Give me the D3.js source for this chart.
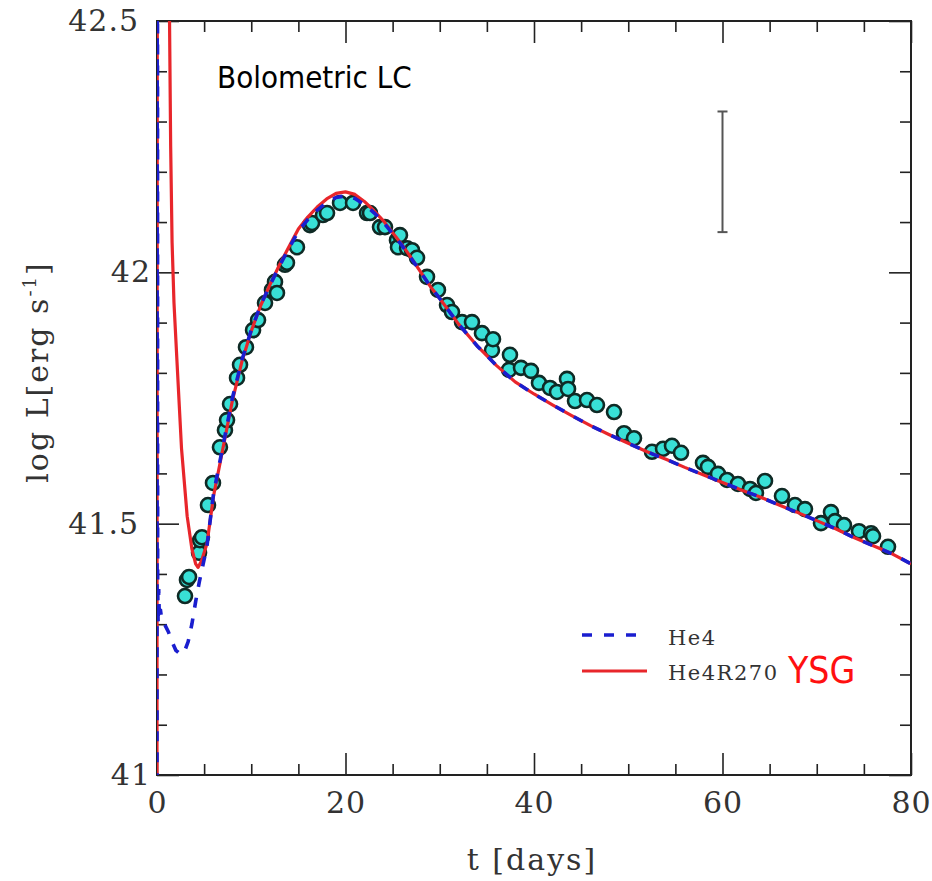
<!DOCTYPE html>
<html><head><meta charset="utf-8">
<script src="https://cdn.jsdelivr.net/npm/d3@7"></script>
<style>body{margin:0;background:#fff;} svg{display:block;}</style>
</head><body>
<svg id="c" width="932" height="881"></svg>
<script>
// ---- data ----
const xTicksMajor = [0, 20, 40, 60, 80];
const yTicksMajor = [41, 41.5, 42, 42.5];

const he4T = [0,0.02,0.05,0.07,0.12,0.18,0.25,0.35,0.5,0.8,1.2,1.6,2.0,2.5,2.9,3.3,3.7,4.1,4.5,4.9,5.3,6,7,8,9,10,11,12,13,14,15,16,17,18,19,20,21,22,23,24,25,26,27,28,29,30,32,34,36,38,40,42,44,46,48,50,52,54,56,58,60,62,64,66,68,70,72,74,76,78,80];
const he4L = [40.9,42.7,42.7,41.38,41.30,41.37,41.31,41.33,41.31,41.30,41.285,41.265,41.248,41.24,41.245,41.265,41.30,41.345,41.385,41.42,41.455,41.56,41.655,41.75,41.825,41.885,41.935,41.975,42.013,42.048,42.082,42.105,42.124,42.139,42.149,42.152,42.147,42.135,42.119,42.1,42.077,42.053,42.027,42.0,41.972,41.948,41.897,41.853,41.815,41.782,41.758,41.736,41.715,41.695,41.677,41.66,41.643,41.628,41.612,41.597,41.582,41.567,41.553,41.537,41.522,41.506,41.49,41.472,41.456,41.44,41.42];

const r270T = [0,0.03,1.25,1.33,1.45,1.6,1.8,2.1,2.6,3.2,3.7,4.1,4.35,4.7,5.3,6,7,8,9,10,11,12,13,14,15,16,17,18,19,20,21,22,23,24,25,26,27,28,29,30,32,34,36,38,40,42,44,46,48,50,52,54,56,58,60,62,64,66,68,70,72,74,76,78,80];
const r270L = [40.9,42.7,42.7,42.5,42.25,42.06,41.94,41.83,41.65,41.515,41.45,41.42,41.413,41.425,41.46,41.555,41.65,41.745,41.822,41.883,41.934,41.976,42.015,42.051,42.086,42.11,42.13,42.146,42.157,42.16,42.155,42.141,42.123,42.103,42.079,42.055,42.028,42.0,41.972,41.948,41.897,41.853,41.815,41.782,41.758,41.736,41.715,41.695,41.677,41.66,41.643,41.628,41.612,41.597,41.582,41.567,41.553,41.537,41.522,41.506,41.49,41.472,41.456,41.44,41.42];

const obsT = [2.97,3.18,3.40,4.46,4.56,4.77,5.41,5.94,6.68,7.21,7.43,7.75,8.49,8.81,9.44,10.19,10.72,11.46,12.20,12.52,12.73,13.58,13.79,14.85,16.23,16.45,17.61,18.04,19.42,20.80,22.28,22.60,23.66,24.19,25.46,25.57,25.78,26.53,27.06,27.59,28.65,29.81,30.77,31.30,32.36,33.42,34.48,35.54,35.65,37.35,37.45,38.62,39.68,40.53,41.70,42.44,43.50,43.61,44.35,45.62,46.68,48.49,49.55,50.61,52.52,53.69,54.64,55.60,57.93,58.46,59.52,60.48,61.64,62.92,63.55,64.51,66.31,67.69,68.75,70.45,71.51,71.94,72.89,74.48,75.76,75.97,77.56];
const obsL = [41.356,41.388,41.394,41.442,41.467,41.473,41.537,41.581,41.652,41.686,41.706,41.738,41.790,41.816,41.851,41.885,41.905,41.939,41.965,41.981,41.959,42.015,42.019,42.050,42.094,42.098,42.114,42.118,42.138,42.138,42.118,42.118,42.090,42.090,42.064,42.050,42.074,42.048,42.044,42.029,41.991,41.965,41.935,41.921,41.901,41.901,41.879,41.845,41.867,41.806,41.836,41.810,41.804,41.780,41.770,41.762,41.788,41.768,41.744,41.746,41.736,41.722,41.680,41.670,41.643,41.649,41.655,41.641,41.621,41.613,41.599,41.587,41.579,41.569,41.561,41.585,41.555,41.537,41.529,41.501,41.523,41.505,41.497,41.485,41.481,41.475,41.454];

const errT = 60, errLow = 42.08, errHigh = 42.32;

// ---- layout ----
const L = 157, R = 911, T = 21, B = 775;
const svg = d3.select("#c");
const x = d3.scaleLinear().domain([0, 80]).range([L, R]);
const y = d3.scaleLinear().domain([41, 42.5]).range([B, T]);

svg.append("defs").append("clipPath").attr("id","clip")
  .append("rect").attr("x",L).attr("y",T).attr("width",R-L).attr("height",B-T);

const frameCol = "#222";
function styleAxis(g){
  g.select(".domain").remove();
  g.selectAll(".tick line").attr("stroke", frameCol).attr("stroke-width", 1.6);
  g.selectAll(".tick text").attr("fill","#333").attr("font-family","'DejaVu Serif', serif").attr("font-size",30).attr("letter-spacing","1px");
}
const minorX = d3.range(0, 81, 5).filter(d => d % 20 !== 0);
const minorY = d3.range(41, 42.51, 0.1).map(d => +d.toFixed(1)).filter(d => Math.abs((d*2)%1) > 1e-6);

// bottom
svg.append("g").attr("transform",`translate(0,${B})`)
  .call(d3.axisBottom(x).tickValues(xTicksMajor).tickSize(-22).tickPadding(38).tickFormat(d3.format("d")))
  .call(styleAxis).call(g=>g.selectAll(".tick text").attr("dy","0"));
svg.append("g").attr("transform",`translate(0,${B})`)
  .call(d3.axisBottom(x).tickValues(minorX).tickSize(-11).tickFormat("")).call(styleAxis);
// top
svg.append("g").attr("transform",`translate(0,${T})`)
  .call(d3.axisTop(x).tickValues(xTicksMajor).tickSize(-22).tickFormat("")).call(styleAxis);
svg.append("g").attr("transform",`translate(0,${T})`)
  .call(d3.axisTop(x).tickValues(minorX).tickSize(-11).tickFormat("")).call(styleAxis);
// left
svg.append("g").attr("transform",`translate(${L},0)`)
  .call(d3.axisLeft(y).tickValues(yTicksMajor).tickSize(-22).tickPadding(18)
    .tickFormat(d => Number.isInteger(d) ? d3.format("d")(d) : d3.format(".1f")(d)))
  .call(styleAxis)
  .call(g=>g.selectAll(".tick text").attr("dx", d => Number.isInteger(d) ? 12 : 0));
svg.append("g").attr("transform",`translate(${L},0)`)
  .call(d3.axisLeft(y).tickValues(minorY).tickSize(-10).tickFormat("")).call(styleAxis);
// right
svg.append("g").attr("transform",`translate(${R},0)`)
  .call(d3.axisRight(y).tickValues(yTicksMajor).tickSize(-22).tickFormat("")).call(styleAxis);
svg.append("g").attr("transform",`translate(${R},0)`)
  .call(d3.axisRight(y).tickValues(minorY).tickSize(-11).tickFormat("")).call(styleAxis);

// frame
svg.append("rect").attr("x",L).attr("y",T).attr("width",R-L).attr("height",B-T)
  .attr("fill","none").attr("stroke",frameCol).attr("stroke-width",2);

// axis titles
svg.append("text").attr("x", (L+R)/2 - 2).attr("y", 870).attr("text-anchor","middle")
  .attr("font-family","'DejaVu Serif', serif").attr("font-size",30).attr("letter-spacing","2px").attr("fill","#333")
  .text("t [days]");
const yt = svg.append("text").attr("transform","translate(48,372) rotate(-90)").attr("text-anchor","middle")
  .attr("font-family","'DejaVu Serif', serif").attr("font-size",30).attr("letter-spacing","2px").attr("fill","#333");
yt.append("tspan").text("log L[erg s");
yt.append("tspan").attr("font-size",18).attr("dy",-12).text("-1");
yt.append("tspan").attr("dy",12).text("]");

// plot
const plot = svg.append("g").attr("clip-path","url(#clip)");

// error bar
const eg = plot.append("g").attr("stroke","#555").attr("stroke-width",2);
eg.append("line").attr("x1",x(errT)).attr("x2",x(errT)).attr("y1",y(errLow)).attr("y2",y(errHigh));
eg.append("line").attr("x1",x(errT)-5).attr("x2",x(errT)+5).attr("y1",y(errLow)).attr("y2",y(errLow));
eg.append("line").attr("x1",x(errT)-5).attr("x2",x(errT)+5).attr("y1",y(errHigh)).attr("y2",y(errHigh));

// observations
const obs = obsT.map((t,i)=>({t, l: obsL[i]}));
plot.append("g").selectAll("circle").data(obs).join("circle")
  .attr("cx", d=>x(d.t)).attr("cy", d=>y(d.l)).attr("r", 7)
  .attr("fill","#38e0d6").attr("stroke","#0f2a25").attr("stroke-width",2.6);

const line = d3.line().x(d=>x(d[0])).y(d=>y(d[1])).curve(d3.curveLinear);
const redData = r270T.map((t,i)=>[t, r270L[i]]);
const blueData = he4T.map((t,i)=>[t, he4L[i]]);
plot.append("path").attr("d", line(redData)).attr("fill","none")
  .attr("stroke","#e8262b").attr("stroke-width",3.2).attr("stroke-linejoin","round");
plot.append("path").attr("d", line(blueData)).attr("fill","none")
  .attr("stroke","#1a1ecf").attr("stroke-width",3.6).attr("stroke-dasharray","10,11");

// title text
svg.append("text").attr("x",217).attr("y",88)
  .attr("font-family","'DejaVu Sans Condensed','DejaVu Sans', sans-serif").attr("font-stretch","condensed")
  .attr("font-size",31).attr("fill","#000").text("Bolometric LC");

// legend
const lg = svg.append("g");
lg.append("line").attr("x1",582).attr("x2",640).attr("y1",635).attr("y2",635)
  .attr("stroke","#1a1ecf").attr("stroke-width",3.6).attr("stroke-dasharray","10,12");
lg.append("line").attr("x1",582).attr("x2",647).attr("y1",671).attr("y2",671)
  .attr("stroke","#e8262b").attr("stroke-width",3.2);
lg.append("text").attr("x",668).attr("y",645).attr("font-family","'DejaVu Serif', serif")
  .attr("font-size",21).attr("letter-spacing","1.5px").attr("fill","#333").text("He4");
lg.append("text").attr("x",668).attr("y",680).attr("font-family","'DejaVu Serif', serif")
  .attr("font-size",21).attr("letter-spacing","1.5px").attr("fill","#333").text("He4R270");
lg.append("text").attr("x",788).attr("y",683)
  .attr("font-family","'DejaVu Sans Condensed','DejaVu Sans', sans-serif").attr("font-stretch","condensed")
  .attr("font-size",37).attr("fill","#ff1010").text("YSG");
</script>
</body></html>
